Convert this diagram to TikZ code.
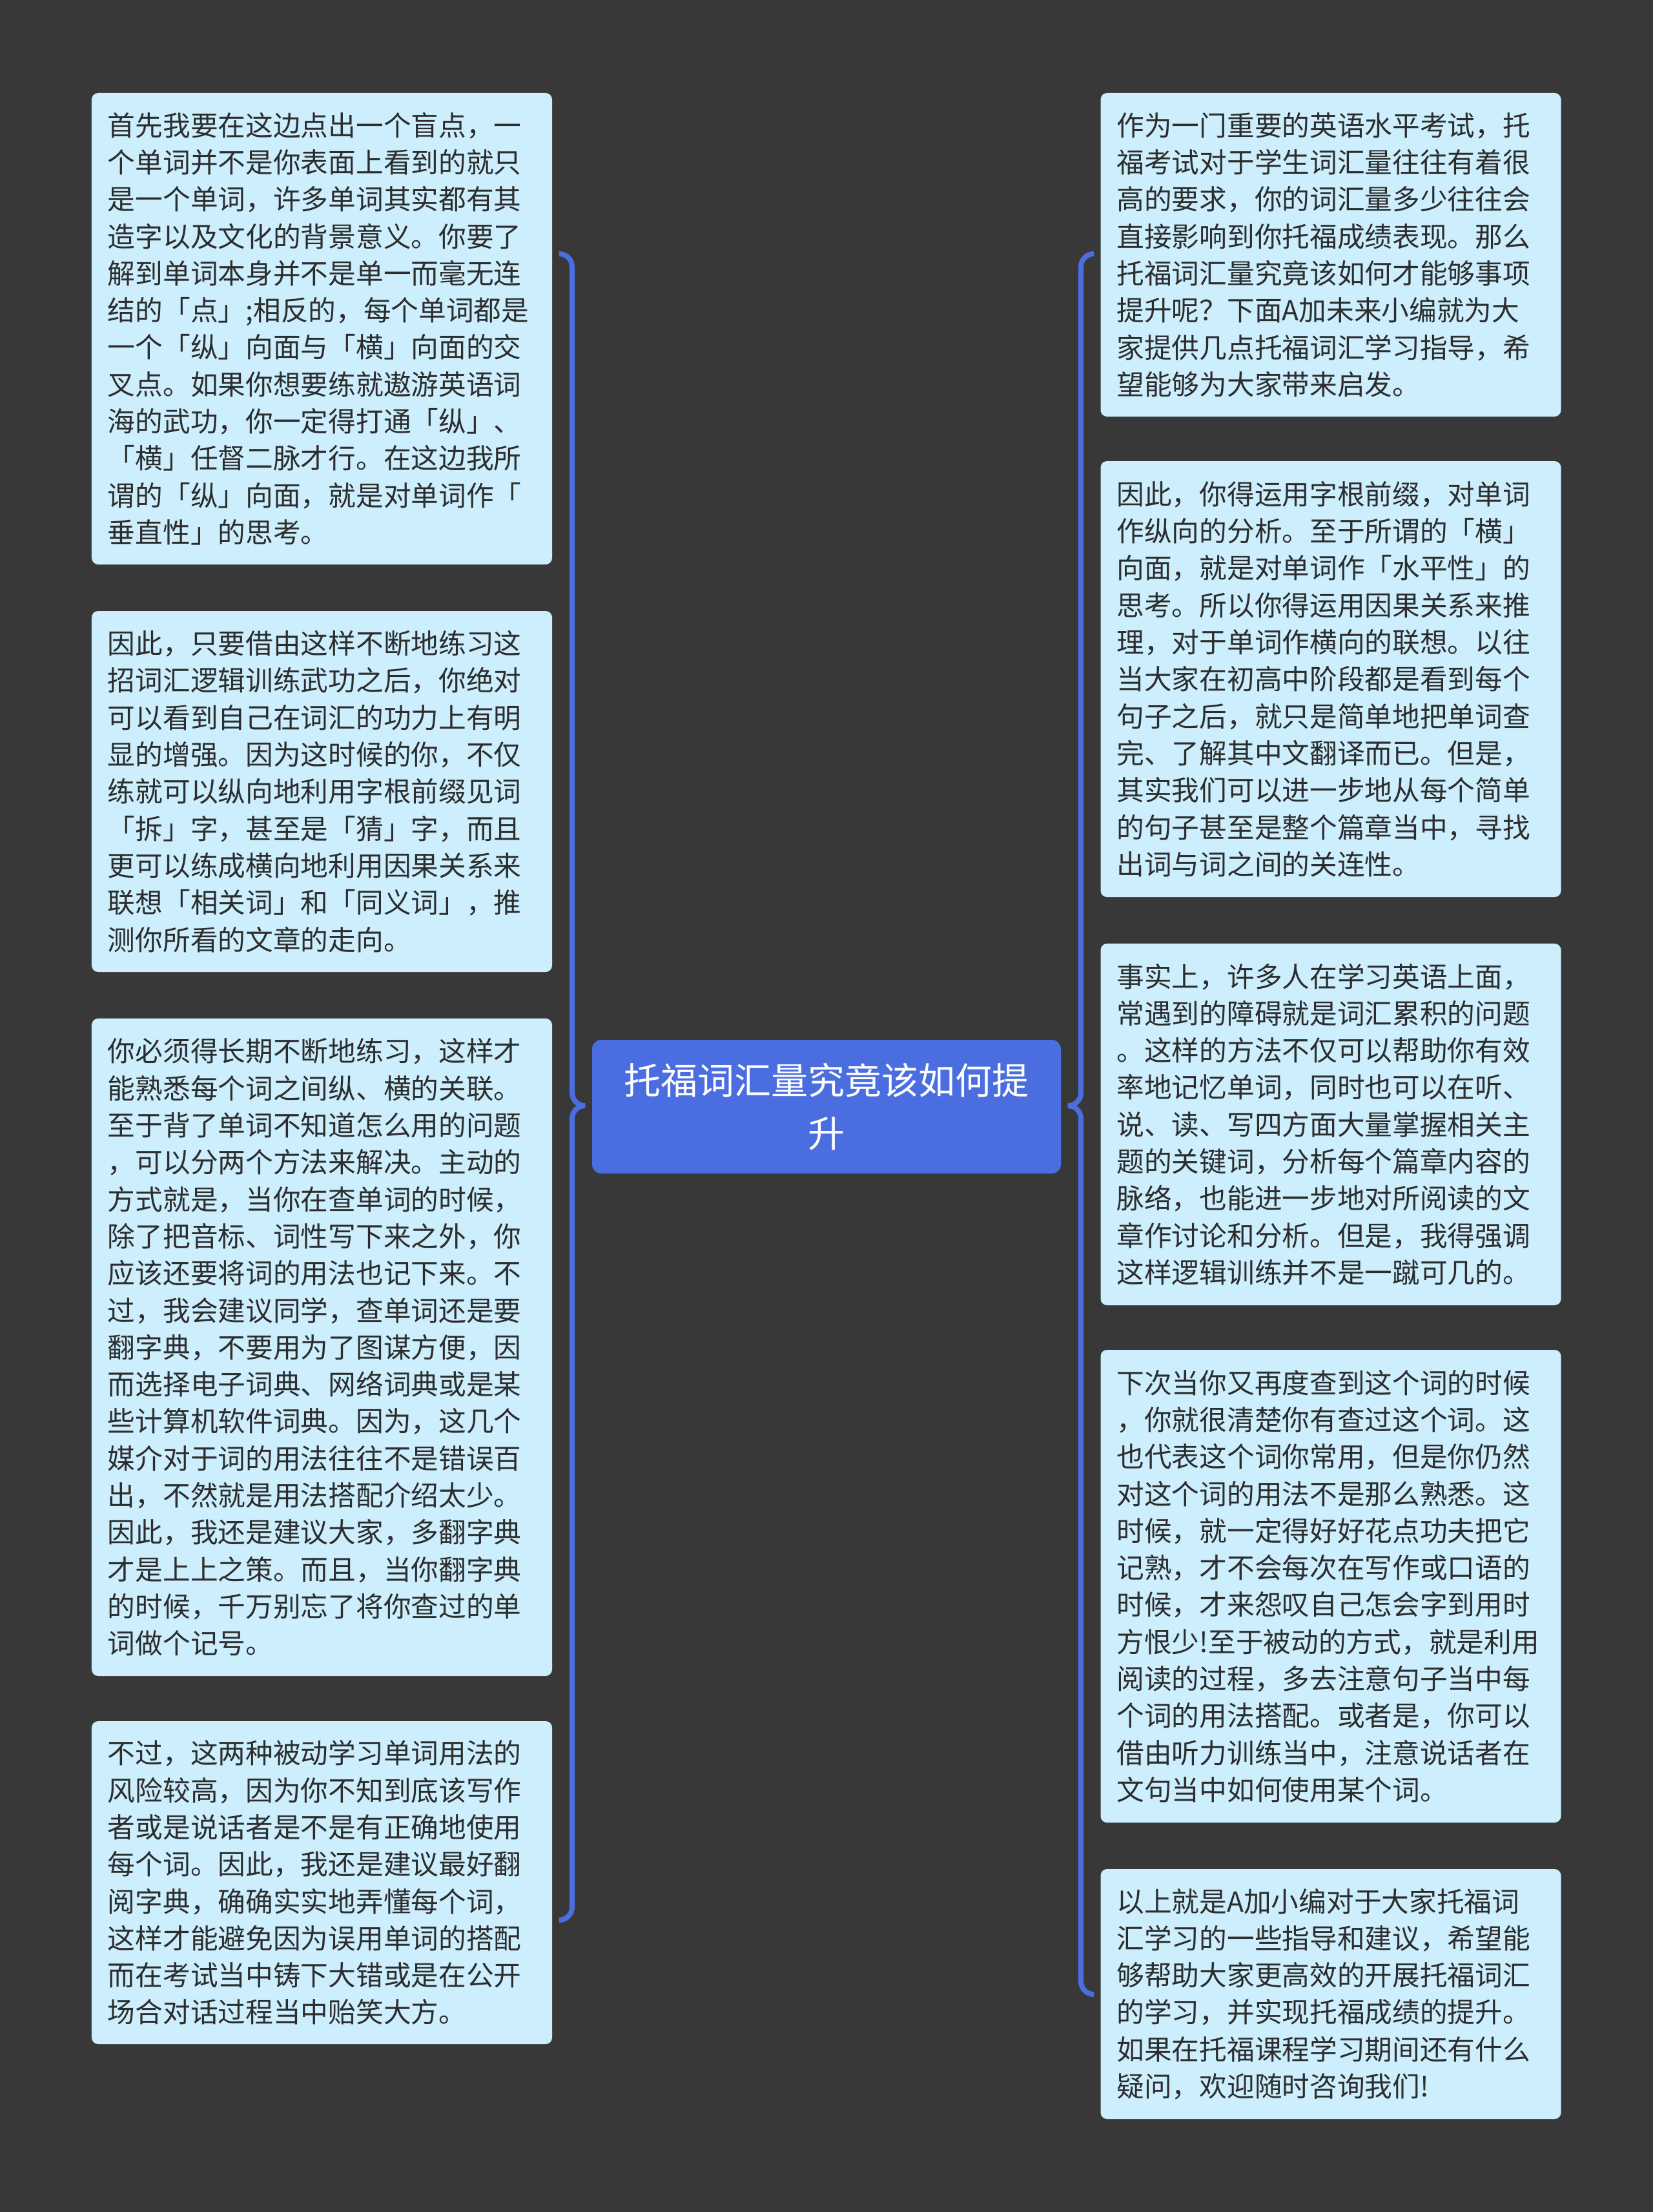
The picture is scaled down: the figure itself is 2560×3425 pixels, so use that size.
\documentclass[tikz,border=0pt]{standalone}
\usepackage{fontspec}
\setmainfont{Noto Sans CJK SC}
\definecolor{bgc}{RGB}{57,56,56}
\definecolor{boxfill}{RGB}{204,238,253}
\definecolor{txtc}{RGB}{45,45,45}
\definecolor{mainblue}{RGB}{74,110,224}
\begin{document}
\begin{tikzpicture}[x=1bp,y=-1bp,
  leafbox/.style={rectangle, rounded corners=10bp, fill=boxfill, text=txtc,
    font=\fontsize{42.7bp}{57.3bp}\selectfont, text width=663bp, inner xsep=25bp,
    inner ysep=0bp, align=left},
  rootbox/.style={rectangle, rounded corners=14bp, fill=mainblue, text=white,
    font=\fontsize{57bp}{82bp}\selectfont, minimum width=726bp, minimum height=207bp,
    inner sep=0bp, align=center},
  bracel/.style={draw=mainblue, line width=8bp, rounded corners=20bp}
]
\fill[bgc] (0,0) rectangle (2560,3425);
\useasboundingbox (0,0) rectangle (2560,3425);

\node[rootbox] (root) at (1280,1713.5) {托福词汇量究竟该如何提\\升};

\node[leafbox, minimum height=730bp] (l1) at (498.5,509) {首先我要在这边点出一个盲点，一\\个单词并不是你表面上看到的就只\\是一个单词，许多单词其实都有其\\造字以及文化的背景意义。你要了\\解到单词本身并不是单一而毫无连\\结的「点」;相反的，每个单词都是\\一个「纵」向面与「横」向面的交\\叉点。如果你想要练就遨游英语词\\海的武功，你一定得打通「纵」、\\「横」任督二脉才行。在这边我所\\谓的「纵」向面，就是对单词作「\\垂直性」的思考。};

\node[leafbox, minimum height=559bp] (l2) at (498.5,1225.5) {因此，只要借由这样不断地练习这\\招词汇逻辑训练武功之后，你绝对\\可以看到自己在词汇的功力上有明\\显的增强。因为这时候的你，不仅\\练就可以纵向地利用字根前缀见词\\「拆」字，甚至是「猜」字，而且\\更可以练成横向地利用因果关系来\\联想「相关词」和「同义词」，推\\测你所看的文章的走向。};

\node[leafbox, minimum height=1018bp] (l3) at (498.5,2086) {你必须得长期不断地练习，这样才\\能熟悉每个词之间纵、横的关联。\\至于背了单词不知道怎么用的问题\\，可以分两个方法来解决。主动的\\方式就是，当你在查单词的时候，\\除了把音标、词性写下来之外，你\\应该还要将词的用法也记下来。不\\过，我会建议同学，查单词还是要\\翻字典，不要用为了图谋方便，因\\而选择电子词典、网络词典或是某\\些计算机软件词典。因为，这几个\\媒介对于词的用法往往不是错误百\\出，不然就是用法搭配介绍太少。\\因此，我还是建议大家，多翻字典\\才是上上之策。而且，当你翻字典\\的时候，千万别忘了将你查过的单\\词做个记号。};

\node[leafbox, minimum height=500bp] (l4) at (498.5,2915) {不过，这两种被动学习单词用法的\\风险较高，因为你不知到底该写作\\者或是说话者是不是有正确地使用\\每个词。因此，我还是建议最好翻\\阅字典，确确实实地弄懂每个词，\\这样才能避免因为误用单词的搭配\\而在考试当中铸下大错或是在公开\\场合对话过程当中贻笑大方。};

\node[leafbox, minimum height=501bp] (r1) at (2061,394.5) {作为一门重要的英语水平考试，托\\福考试对于学生词汇量往往有着很\\高的要求，你的词汇量多少往往会\\直接影响到你托福成绩表现。那么\\托福词汇量究竟该如何才能够事项\\提升呢？下面A加未来小编就为大\\家提供几点托福词汇学习指导，希\\望能够为大家带来启发。};

\node[leafbox, minimum height=675bp] (r2) at (2061,1051.5) {因此，你得运用字根前缀，对单词\\作纵向的分析。至于所谓的「横」\\向面，就是对单词作「水平性」的\\思考。所以你得运用因果关系来推\\理，对于单词作横向的联想。以往\\当大家在初高中阶段都是看到每个\\句子之后，就只是简单地把单词查\\完、了解其中文翻译而已。但是，\\其实我们可以进一步地从每个简单\\的句子甚至是整个篇章当中，寻找\\出词与词之间的关连性。};

\node[leafbox, minimum height=560bp] (r3) at (2061,1741) {事实上，许多人在学习英语上面，\\常遇到的障碍就是词汇累积的问题\\。这样的方法不仅可以帮助你有效\\率地记忆单词，同时也可以在听、\\说、读、写四方面大量掌握相关主\\题的关键词，分析每个篇章内容的\\脉络，也能进一步地对所阅读的文\\章作讨论和分析。但是，我得强调\\这样逻辑训练并不是一蹴可几的。};

\node[leafbox, minimum height=732bp] (r4) at (2061,2456) {下次当你又再度查到这个词的时候\\，你就很清楚你有查过这个词。这\\也代表这个词你常用，但是你仍然\\对这个词的用法不是那么熟悉。这\\时候，就一定得好好花点功夫把它\\记熟，才不会每次在写作或口语的\\时候，才来怨叹自己怎会字到用时\\方恨少!至于被动的方式，就是利用\\阅读的过程，多去注意句子当中每\\个词的用法搭配。或者是，你可以\\借由听力训练当中，注意说话者在\\文句当中如何使用某个词。};

\node[leafbox, minimum height=387bp] (r5) at (2061,3087.5) {以上就是A加小编对于大家托福词\\汇学习的一些指导和建议，希望能\\够帮助大家更高效的开展托福词汇\\的学习，并实现托福成绩的提升。\\如果在托福课程学习期间还有什么\\疑问，欢迎随时咨询我们!};

% brace coordinates
\coordinate (ltip) at (906,1712);
\coordinate (ltop) at (866,393);
\coordinate (lbot) at (866,2973);
\coordinate (rtip) at (1654,1712);
\coordinate (rtop) at (1694,393);
\coordinate (rbot) at (1694,3088);

\draw[bracel] (ltop) -| (886,1712) -- (ltip);
\draw[bracel] (lbot) -| (886,1712) -- (ltip);
\draw[bracel] (rtop) -| (1674,1712) -- (rtip);
\draw[bracel] (rbot) -| (1674,1712) -- (rtip);
\end{tikzpicture}
\end{document}
